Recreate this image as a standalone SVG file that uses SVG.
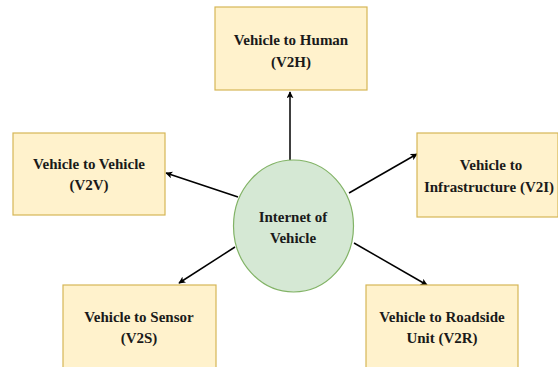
<svg xmlns="http://www.w3.org/2000/svg" width="558" height="367" viewBox="0 0 558 367">
<style>
.box{fill:#fff2cc;stroke:#d6b656;stroke-width:1.2}
.ell{fill:#d5e8d4;stroke:#82b366;stroke-width:1.2}
.t{font-family:'Liberation Serif','Times New Roman','DejaVu Serif',serif;font-weight:bold;font-size:15px;fill:#1a1a1a;text-anchor:middle}
.c{stroke:#000;stroke-width:1.5;fill:none;marker-end:url(#ah)}
</style>
<defs>
<marker id="ah" viewBox="0 0 10 10" refX="9" refY="5" markerWidth="7" markerHeight="7" markerUnits="userSpaceOnUse" orient="auto">
<path d="M0,0 L10,5 L0,10 L2.5,5 Z" fill="#000"/>
</marker>
</defs>
<rect width="558" height="367" fill="#fff"/>
<g id="connectors">
<line class="c" x1="290" y1="160" x2="290" y2="92"/>
<line class="c" x1="238" y1="197" x2="166" y2="173"/>
<line class="c" x1="349" y1="193" x2="417" y2="154"/>
<line class="c" x1="235" y1="247" x2="179" y2="283"/>
<line class="c" x1="354" y1="243" x2="427" y2="285"/>
</g>
<g id="v2h">
<rect class="box" x="215" y="7" width="152" height="83"/>
<text class="t" x="291" y="45">Vehicle to Human</text>
<text class="t" x="291" y="67">(V2H)</text>
</g>
<g id="v2v">
<rect class="box" x="13" y="133" width="152" height="82"/>
<text class="t" x="89" y="169">Vehicle to Vehicle</text>
<text class="t" x="89" y="190">(V2V)</text>
</g>
<g id="v2i">
<rect class="box" x="417" y="133" width="141" height="84"/>
<text class="t" x="491" y="170">Vehicle to</text>
<text class="t" x="489" y="192">Infrastructure (V2I)</text>
</g>
<g id="v2s">
<rect class="box" x="63" y="285" width="153" height="90"/>
<text class="t" x="139" y="322">Vehicle to Sensor</text>
<text class="t" x="139" y="343">(V2S)</text>
</g>
<g id="v2r">
<rect class="box" x="366" y="285" width="152" height="90"/>
<text class="t" x="442" y="322">Vehicle to Roadside</text>
<text class="t" x="442" y="343">Unit (V2R)</text>
</g>
<g id="iov">
<ellipse class="ell" cx="293.5" cy="226" rx="60" ry="66"/>
<text class="t" x="293" y="222">Internet of</text>
<text class="t" x="293" y="243">Vehicle</text>
</g>
</svg>
